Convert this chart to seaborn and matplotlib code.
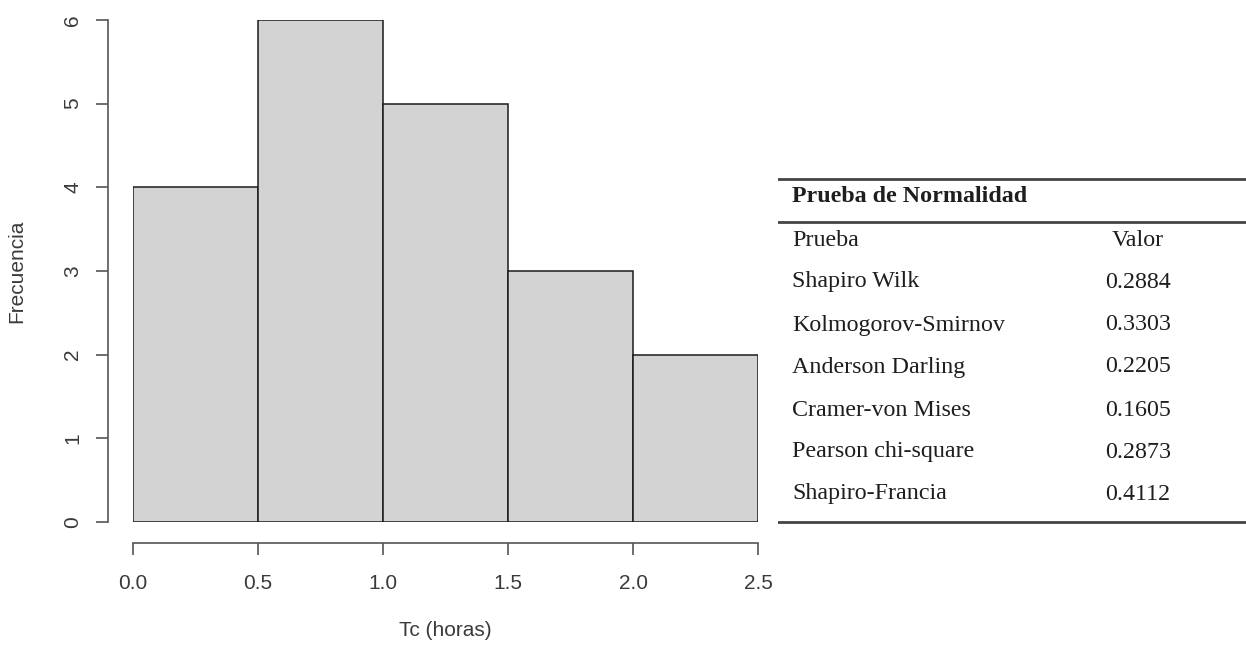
import numpy as np
import pandas as pd
import seaborn as sns
import matplotlib
matplotlib.use("Agg")
import matplotlib.pyplot as plt

# Histogram of concentration time (hours)
bin_edges = [0.0, 0.5, 1.0, 1.5, 2.0, 2.5]
bin_counts = [4, 6, 5, 3, 2]
x_ticks = [0.0, 0.5, 1.0, 1.5, 2.0, 2.5]
x_tick_labels = ["0.0", "0.5", "1.0", "1.5", "2.0", "2.5"]
y_ticks = [0, 1, 2, 3, 4, 5, 6]

# Normality test summary
table_title = "Prueba de Normalidad"
table_header = ["Prueba", "Valor"]
test_names = ["Shapiro Wilk", "Kolmogorov-Smirnov", "Anderson Darling",
              "Cramer-von Mises", "Pearson chi-square", "Shapiro-Francia"]
test_values = ["0.2884", "0.3303", "0.2205", "0.1605", "0.2873", "0.4112"]

sns.set_style("white")
plt.rcParams["font.family"] = ["Liberation Sans", "DejaVu Sans"]

W, H = 1246, 646
fig = plt.figure(figsize=(W / 100, H / 100), dpi=100)

ax = fig.add_axes([133 / W, (H - 522) / H, 625 / W, 502 / H])

centers = [(a + b) / 2 for a, b in zip(bin_edges[:-1], bin_edges[1:])]
df = pd.DataFrame({"tc": centers, "n": bin_counts})
sns.histplot(data=df, x="tc", weights="n", bins=bin_edges, ax=ax,
             color="#D3D3D3", edgecolor="#1a1a1a", linewidth=1.1, alpha=1.0)

ax.set_xlim(0, 2.5)
ax.set_ylim(0, 6)

axis_grey = "#555555"
text_grey = "#3a3a3a"
for s in ["top", "right"]:
    ax.spines[s].set_visible(False)
ax.spines["left"].set_position(("outward", 18))
ax.spines["bottom"].set_position(("outward", 15))
ax.spines["left"].set_bounds(0, 6)
ax.spines["bottom"].set_bounds(0, 2.5)
for s in ["left", "bottom"]:
    ax.spines[s].set_color(axis_grey)
    ax.spines[s].set_linewidth(1.2)

ax.set_xticks(x_ticks)
ax.set_xticklabels(x_tick_labels)
ax.set_yticks(y_ticks)
ax.set_yticklabels([str(v) for v in y_ticks], rotation=90, va="center")
ax.tick_params(axis="both", which="both", direction="out", length=8.5,
               width=1.2, color=axis_grey, labelcolor=text_grey, labelsize=15,
               left=True, bottom=True)
ax.tick_params(axis="x", pad=14)
ax.tick_params(axis="y", pad=10)

ax.set_xlabel("Tc (horas)", fontsize=15, color=text_grey)
ax.set_ylabel("Frecuencia", fontsize=15, color=text_grey)
ax.xaxis.set_label_coords(0.5, -0.197)
ax.yaxis.set_label_coords(-0.171, 0.5)

# Table panel in pixel coordinates
tx = fig.add_axes([778 / W, 0, (W - 778) / W, 1])
tx.set_xlim(778, W)
tx.set_ylim(H, 0)
tx.axis("off")

line_kw = dict(color="#444444", linewidth=2.0)
tx.plot([778, W], [179, 179], **line_kw)
tx.plot([778, W], [222, 222], **line_kw)
tx.plot([778, W], [522, 522], **line_kw)

serif = ["Liberation Serif", "DejaVu Serif"]
tcolor = "#1e1e1e"
fs = 17.3
left_x = 792
val_x = 1138
tx.text(left_x, 197, table_title, family=serif, fontsize=fs,
        fontweight="bold", color=tcolor, va="center", ha="left")
tx.text(left_x, 240, table_header[0], family=serif, fontsize=fs,
        color=tcolor, va="center", ha="left")
tx.text(val_x, 240, table_header[1], family=serif, fontsize=fs,
        color=tcolor, va="center", ha="center")

row_y = [282, 325, 367, 410, 452, 494]
for name, val, y in zip(test_names, test_values, row_y):
    tx.text(left_x, y, name, family=serif, fontsize=fs, color=tcolor,
            va="center", ha="left")
    tx.text(val_x, y, val, family=serif, fontsize=fs, color=tcolor,
            va="center", ha="center")

fig.savefig("out.png", dpi=100)
